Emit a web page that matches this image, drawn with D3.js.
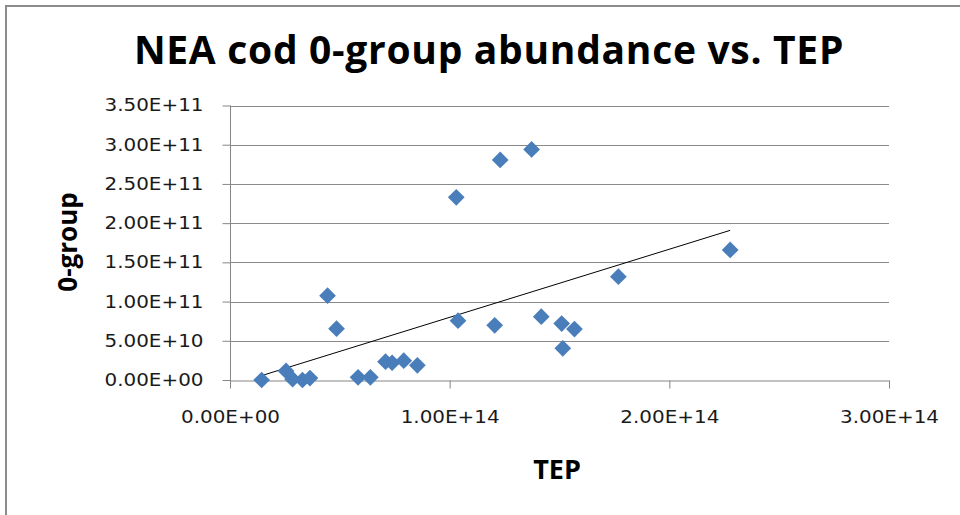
<!DOCTYPE html>
<html>
<head>
<meta charset="utf-8">
<script src="https://cdn.jsdelivr.net/npm/d3@7"></script>
<style>
  body { margin: 0; background: #fff; }
</style>
</head>
<body>
<div id="chartContainer"></div>
<script>
// values
var tep = [1.44e13, 2.55e13, 2.85e13, 3.3e13, 3.64e13, 4.44e13, 4.85e13, 5.83e13, 6.39e13, 7.08e13, 7.38e13, 7.91e13,
           8.53e13, 1.03e14, 1.038e14, 1.205e14, 1.23e14, 1.373e14, 1.417e14, 1.51e14, 1.515e14, 1.568e14, 1.768e14, 2.277e14];
var zeroGroup = [0, 1.15e10, 1e9, 0, 2.5e9, 1.075e11, 6.55e10, 3.4e9, 3.4e9, 2.34e10, 2.2e10, 2.46e10,
                 1.87e10, 2.33e11, 7.56e10, 6.97e10, 2.806e11, 2.94e11, 8.07e10, 7.2e10, 4.04e10, 6.5e10, 1.318e11, 1.658e11];
var xTicks = [0, 1e14, 2e14, 3e14];
var yTicks = [0, 5e10, 1e11, 1.5e11, 2e11, 2.5e11, 3e11, 3.5e11];

var W = 960, H = 515;
var svg = d3.select("#chartContainer").append("svg")
  .attr("width", W)
  .attr("height", H)

// chart area frame
svg.append("rect")
  .attr("x", 6).attr("y", 6)
  .attr("width", W + 10).attr("height", H + 10)
  .attr("fill", "#fff")
  .attr("stroke", "#8c8c8c")
  .attr("stroke-width", 2)

var x = d3.scaleLinear().domain([0, 3e14]).range([230, 889])
var y = d3.scaleLinear().domain([0, 3.5e11]).range([380, 105.5])

// Excel style 0.00E+00
function sci(v){
  var s = v.toExponential(2).toUpperCase()
  var parts = s.split("E")
  var sign = parts[1].charAt(0)
  var exp = parts[1].slice(1)
  if (exp.length < 2) exp = "0" + exp
  return parts[0] + "E" + sign + exp
}

// gridlines
svg.append("g").selectAll("line")
  .data(yTicks.slice(1))
  .enter().append("line")
  .attr("x1", x(0)).attr("x2", x(3e14))
  .attr("y1", function(d){ return Math.round(y(d)) + 0.5 })
  .attr("y2", function(d){ return Math.round(y(d)) + 0.5 })
  .attr("stroke", "#8a8a8a")
  .attr("stroke-width", 1)

var yAxis = d3.axisLeft(y).tickValues(yTicks).tickFormat(sci).tickSize(8).tickSizeOuter(0).tickPadding(19)
var gy = svg.append("g").attr("transform", "translate(" + (x(0) + 0.5) + ",0)").call(yAxis)

var xAxis = d3.axisBottom(x).tickValues(xTicks).tickFormat(sci).tickSize(8).tickSizeOuter(0).tickPadding(22)
var gx = svg.append("g").attr("transform", "translate(0," + (y(0) + 0.5) + ")").call(xAxis)

// y axis line runs down through the x axis like a tick
gy.select(".domain").attr("d", "M0," + y(3.5e11) + "V" + (y(0) + 8))

svg.selectAll(".domain, .tick line").attr("stroke", "#868686")
svg.selectAll("g").attr("font-family", null)
// labels in the original are stretched wide, so fit them to the measured width
svg.selectAll(".tick text")
  .style("font-family", "'DejaVu Sans', Verdana, sans-serif")
  .style("font-size", "17px")
  .attr("textLength", 99)
  .attr("lengthAdjust", "spacingAndGlyphs")
  .attr("fill", "#1a1a1a")

// trendline (least squares, drawn over the data range)
var n = tep.length
var mx = d3.mean(tep), my = d3.mean(zeroGroup)
var sxy = 0, sxx = 0
for (var i = 0; i < n; i++){
  sxy += (tep[i] - mx) * (zeroGroup[i] - my)
  sxx += (tep[i] - mx) * (tep[i] - mx)
}
var slope = sxy / sxx
var icpt = my - slope * mx
var x0 = d3.min(tep), x1 = d3.max(tep)

svg.append("line")
  .attr("x1", x(x0)).attr("y1", y(icpt + slope * x0))
  .attr("x2", x(x1)).attr("y2", y(icpt + slope * x1))
  .attr("stroke", "#000")
  .attr("stroke-width", 1)

// diamonds
var points = tep.map(function(t, i){ return { tep: t, group: zeroGroup[i] } })
var diamond = d3.symbol().type(d3.symbolSquare).size(140)
svg.append("g").selectAll("path")
  .data(points)
  .enter().append("path")
  .attr("d", diamond)
  .attr("transform", function(d){ return "translate(" + x(d.tep) + "," + y(d.group) + ") rotate(45)" })
  .attr("fill", "#4a7ebb")

// titles
svg.append("text")
  .attr("x", 489)
  .attr("y", 64)
  .attr("text-anchor", "middle")
  .style("font-family", "'Open Sans'")
  .style("font-weight", "bold")
  .style("font-size", "39px")
  .style("letter-spacing", "0.7px")
  .text("NEA cod 0-group abundance vs. TEP")

svg.append("text")
  .attr("x", 557)
  .attr("y", 479)
  .attr("text-anchor", "middle")
  .style("font-family", "'Open Sans'")
  .style("font-weight", "bold")
  .style("font-size", "27px")
  .text("TEP")

svg.append("text")
  .attr("transform", "translate(77,242) rotate(-90)")
  .attr("text-anchor", "middle")
  .style("font-family", "'Open Sans'")
  .style("font-weight", "bold")
  .style("font-size", "26px")
  .text("0-group")
</script>
</body>
</html>
